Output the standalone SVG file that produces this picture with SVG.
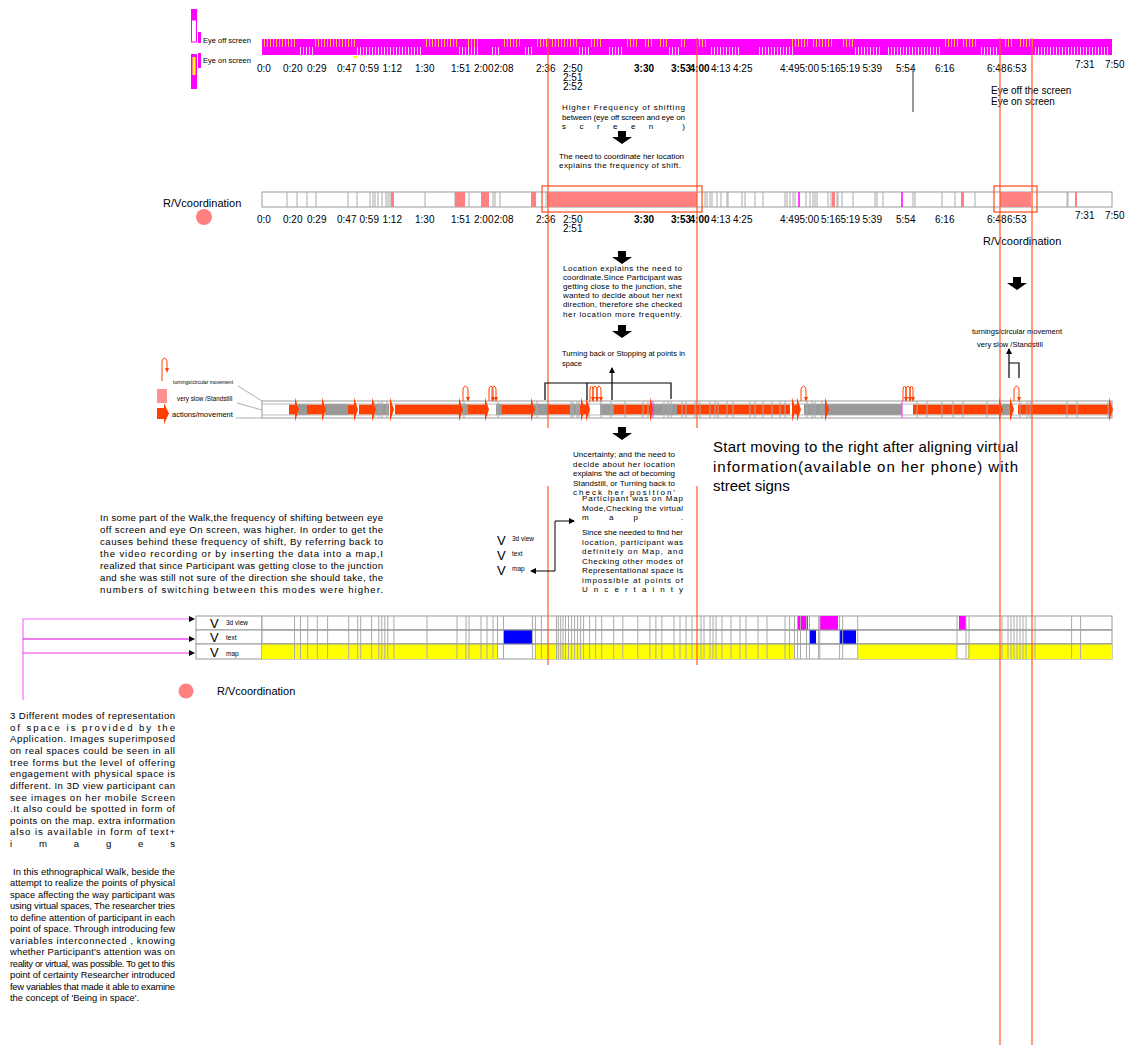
<svg xmlns="http://www.w3.org/2000/svg" width="1130" height="1045" viewBox="0 0 1130 1045">
<style>
text{font-family:"Liberation Sans",Arial,sans-serif;fill:#000}
.tl{font-size:10px}
.b{font-weight:bold}
.s8{font-size:8px}
.g{stroke:#aaa;stroke-width:1;fill:none}
.vo{stroke:#ff5a28;stroke-width:1.2;fill:none}
.ao{fill:#ff4000}
.ag{fill:#999}
.pk{fill:#ff8080}
.mg{fill:#ff00ff}
.u{fill:none;stroke:#ff4000;stroke-width:1}
.bk{fill:none;stroke:#000;stroke-width:1.2}
.cell{fill:#fff;stroke:#999;stroke-width:1}
</style>
<defs>
<pattern id="pOff" width="3" height="8" patternUnits="userSpaceOnUse"><rect width="1" height="8" fill="#ffc040"/></pattern>
<pattern id="pOn" width="3" height="8" patternUnits="userSpaceOnUse"><rect width="1" height="8" fill="#ffd0ff"/></pattern>
<path id="fat" d="M-4,0 h8 v6 h6 l-10,7 l-10,-7 h6 z" fill="#000"/>
<path id="ah" d="M-3,-12 L1,0 L-3,12 z" fill="#ff4000"/>
<path id="ud" d="M-2,-4 L2,-4 L0,1 z" fill="#ff4000"/>
<marker id="mk" viewBox="0 0 6 6" refX="5" refY="3" markerWidth="6" markerHeight="6" orient="auto-start-reverse" markerUnits="userSpaceOnUse"><path d="M0,0 L6,3 L0,6 z" fill="#000"/></marker>
</defs>
<rect width="1130" height="1045" fill="#fff"/>

<g id="legend-eye">
<rect x="191" y="9" width="6" height="11" class="mg"/>
<rect x="191.5" y="20" width="5" height="22" fill="#fff" stroke="#ff00ff"/>
<rect x="198" y="32" width="3" height="11" class="mg"/>
<text x="203" y="43" font-size="7.5">Eye off screen</text>
<rect x="191" y="54" width="6" height="35" class="mg"/>
<rect x="192.5" y="57" width="3" height="18" fill="#ffff00"/>
<rect x="198" y="53" width="3" height="15" class="mg"/>
<text x="203" y="62.5" font-size="7.5">Eye on screen</text>
</g>

<g id="eye-bar">
<rect x="262" y="39" width="850" height="16" class="mg"/>
<g fill="url(#pOff)">
<rect x="262" y="39" width="35" height="8"/><rect x="315" y="39" width="42" height="8"/><rect x="425" y="39" width="32" height="8"/><rect x="467" y="39" width="13" height="8"/><rect x="502" y="39" width="20" height="8"/><rect x="535" y="39" width="12" height="8"/><rect x="550" y="39" width="27" height="8"/><rect x="590" y="39" width="13" height="8"/><rect x="627" y="39" width="10" height="8"/><rect x="645" y="39" width="7" height="8"/><rect x="660" y="39" width="7" height="8"/><rect x="680" y="39" width="7" height="8"/><rect x="697" y="39" width="10" height="8"/><rect x="790" y="39" width="20" height="8"/><rect x="813" y="39" width="20" height="8"/><rect x="842" y="39" width="11" height="8"/><rect x="943" y="39" width="15" height="8"/><rect x="962" y="39" width="15" height="8"/><rect x="1003" y="39" width="9" height="8"/><rect x="1020" y="39" width="13" height="8"/>
</g>
<g fill="url(#pOn)">
<rect x="298" y="47" width="17" height="8"/><rect x="357" y="47" width="66" height="8"/><rect x="457" y="47" width="23" height="8"/><rect x="490" y="47" width="10" height="8"/><rect x="523" y="47" width="10" height="8"/><rect x="577" y="47" width="13" height="8"/><rect x="607" y="47" width="16" height="8"/><rect x="667" y="47" width="13" height="8"/><rect x="710" y="47" width="30" height="8"/><rect x="757" y="47" width="36" height="8"/><rect x="853" y="47" width="27" height="8"/><rect x="887" y="47" width="53" height="8"/><rect x="980" y="47" width="17" height="8"/><rect x="1033" y="47" width="77" height="8"/>
</g>
<rect x="353" y="56" width="4" height="2" fill="#ffff00"/>
</g>

<g id="eye-times" class="tl">
<text x="257" y="72">0:0</text><text x="283" y="72">0:20</text><text x="307" y="72">0:29</text>
<text x="337" y="72">0:47</text><text x="359.5" y="72">0:59</text><text x="382.5" y="72">1:12</text>
<text x="415" y="72">1:30</text><text x="451" y="72">1:51</text><text x="474" y="72">2:00</text><text x="494" y="72">2:08</text>
<text x="536" y="72">2:36</text><text x="563" y="71.5">2:50</text><text x="563" y="80.5">2:51</text><text x="563" y="89.5">2:52</text>
<text x="634" y="72" class="b">3:30</text><text x="671" y="72" class="b">3:53</text><text x="689.5" y="72" class="b">4:00</text>
<text x="711" y="72">4:13</text><text x="733" y="72">4:25</text>
<text x="780" y="72">4:49</text><text x="799.5" y="72">5:00</text><text x="821" y="72">5:16</text><text x="840.5" y="72">5:19</text><text x="862.5" y="72">5:39</text>
<text x="896" y="72">5:54</text><text x="935" y="72">6:16</text><text x="987" y="72">6:48</text><text x="1007" y="72">6:53</text>
<text x="1075" y="68">7:31</text><text x="1105" y="68">7:50</text>
</g>
<text x="991" y="94" class="tl">Eye off the screen</text>
<text x="991" y="105" class="tl">Eye on screen</text>

<g id="note-shift" class="s8">
<text x="562" y="110" textLength="123" lengthAdjust="spacing">Higher Frequency of shifting</text>
<text x="562" y="120" textLength="123" lengthAdjust="spacing">between (eye off screen and eye on</text>
<text x="562" y="129" textLength="123" lengthAdjust="spacing">screen )</text>
<text x="559" y="159" textLength="125" lengthAdjust="spacing">The need to coordinate her location</text>
<text x="559" y="168" textLength="122" lengthAdjust="spacing">explains the frequency of shift.</text>
</g>

<g id="rv-bar">
<rect x="262" y="192" width="850" height="15" fill="#fff" stroke="#999"/>
<path class="g" d="M287,192V207M297,192V207M307,192V207M316,192V207M348,192V207M357,192V207M370,192V207M373,192V207M375,192V207M378,192V207M382,192V207M386,192V207M388,192V207M390,192V207M425,192V207M455,192V207M469,192V207M493,192V207M495,192V207M500,192V207M546,192V207M705,192V207M707,192V207M710,192V207M712,192V207M717,192V207M721,192V207M727,192V207M728,192V207M742,192V207M745,192V207M755,192V207M763,192V207M785,192V207M787,192V207M790,192V207M793,192V207M795,192V207M806,192V207M810,192V207M813,192V207M815,192V207M817,192V207M828,192V207M831,192V207M837,192V207M838,192V207M842,192V207M853,192V207M875,192V207M877,192V207M883,192V207M913,192V207M915,192V207M942,192V207M955,192V207M975,192V207M1067,192V207M1068,192V207"/>
<rect x="391" y="192" width="3" height="15" class="pk"/><rect x="455" y="192" width="10" height="15" class="pk"/><rect x="481" y="192" width="8" height="15" class="pk"/><rect x="531" y="192" width="5" height="15" class="pk"/><rect x="547" y="192" width="150" height="15" class="pk"/><rect x="832" y="192" width="3" height="15" class="pk"/><rect x="961" y="192" width="3" height="15" class="pk"/><rect x="1000" y="192" width="31" height="15" class="pk"/><rect x="1075" y="192" width="2" height="15" class="pk"/>
<path d="M799,192V207M902,192V207" stroke="#ff00ff" stroke-width="1.5"/>
<rect x="542" y="186" width="160" height="26" fill="none" stroke="#ff4a1a" stroke-width="1.2"/>
<rect x="994" y="186" width="43" height="26" fill="none" stroke="#ff4a1a" stroke-width="1.2"/>
</g>
<text x="163" y="207" font-size="11">R/Vcoordination</text>
<circle cx="204" cy="217" r="8" class="pk"/>
<g id="rv-times" class="tl">
<text x="257" y="223">0:0</text><text x="283" y="223">0:20</text><text x="307" y="223">0:29</text>
<text x="337" y="223">0:47</text><text x="359.5" y="223">0:59</text><text x="382.5" y="223">1:12</text>
<text x="415" y="223">1:30</text><text x="451" y="223">1:51</text><text x="474" y="223">2:00</text><text x="494" y="223">2:08</text>
<text x="536" y="223">2:36</text><text x="563" y="223">2:50</text><text x="563" y="232">2:51</text>
<text x="634" y="223" class="b">3:30</text><text x="671" y="223" class="b">3:53</text><text x="689.5" y="223" class="b">4:00</text>
<text x="711" y="223">4:13</text><text x="733" y="223">4:25</text>
<text x="780" y="223">4:49</text><text x="799.5" y="223">5:00</text><text x="821" y="223">5:16</text><text x="840.5" y="223">5:19</text><text x="862.5" y="223">5:39</text>
<text x="896" y="223">5:54</text><text x="935" y="223">6:16</text><text x="987" y="223">6:48</text><text x="1007" y="223">6:53</text>
<text x="1075" y="219">7:31</text><text x="1105" y="219">7:50</text>
</g>
<text x="983" y="245" font-size="11">R/Vcoordination</text>

<g id="note-location" class="s8">
<text x="563" y="270.5" textLength="119" lengthAdjust="spacing">Location explains the need to</text>
<text x="563" y="279.7" textLength="119" lengthAdjust="spacing">coordinate.Since Participant was</text>
<text x="563" y="288.9" textLength="119" lengthAdjust="spacing">getting close to the junction, she</text>
<text x="563" y="298.1" textLength="119" lengthAdjust="spacing">wanted to decide about her next</text>
<text x="563" y="307.3" textLength="119" lengthAdjust="spacing">direction, therefore she checked</text>
<text x="563" y="316.5" textLength="119" lengthAdjust="spacing">her location more frequently.</text>
<text x="562" y="356" font-size="7.5" textLength="123" lengthAdjust="spacing">Turning back or Stopping at points in</text>
<text x="562" y="365.5" font-size="7.5">space</text>
</g>

<text x="972" y="334" font-size="7.5">turnings/circular movement</text>
<text x="977" y="347" font-size="7.5">very slow /Standstill</text>

<g id="legend-actions">
<path class="u" d="M162,381V361Q164.5,355 167,361V368"/>
<use href="#ud" x="167" y="372"/>
<rect x="157" y="389" width="10" height="14" fill="#ff9090"/>
<rect x="157" y="408" width="8" height="11" class="ao"/>
<path d="M164,403 L169,413.5 L164,424 z" class="ao"/>
<text x="173" y="384" font-size="5">turnings/circular movement</text>
<text x="177" y="400.5" font-size="6.3">very slow /Standstill</text>
<text x="172" y="417" font-size="7.5">actions/movement</text>
<path d="M238,386L262,401M237,403L262,410M236,418H262" stroke="#999" stroke-width="0.8" fill="none"/>
</g>

<g id="actions-bar">
<rect x="262" y="401" width="850" height="17" fill="#fff" stroke="#999"/>
<g class="ag">
<rect x="298" y="404" width="9" height="11"/><rect x="325" y="404" width="23" height="11"/><rect x="375" y="404" width="14" height="11"/><rect x="462" y="404" width="6" height="11"/><rect x="496" y="404" width="6" height="11"/><rect x="534" y="404" width="14" height="11"/><rect x="570" y="404" width="10" height="11"/><rect x="600" y="404" width="14" height="11"/><rect x="653" y="404" width="24" height="11"/><rect x="804" y="404" width="98" height="11"/><rect x="1002" y="404" width="10" height="11"/>
</g>
<g class="ao">
<rect x="289" y="404.5" width="7" height="10"/><rect x="307" y="404.5" width="15" height="10"/><rect x="348" y="404.5" width="7" height="10"/><rect x="359" y="404.5" width="13" height="10"/><rect x="395" y="404.5" width="64" height="10"/><rect x="468" y="404.5" width="17" height="10"/><rect x="502" y="404.5" width="29" height="10"/><rect x="548" y="404.5" width="22" height="10"/><rect x="580" y="404.5" width="7" height="10"/><rect x="614" y="404.5" width="36" height="10"/><rect x="677" y="404.5" width="113" height="10"/><rect x="795" y="404.5" width="3" height="10"/><rect x="913" y="404.5" width="86" height="10"/><rect x="1018" y="404.5" width="91" height="10"/>
</g>
<path class="g" d="M374,401V418M379,401V418M382,401V418M387,401V418M464,401V418M498,401V418M537,401V418M571,401V418M573,401V418M577,401V418M579,401V418M589,401V418M601,401V418M611,401V418M625,401V418M643,401V418M648,401V418M664,401V418M668,401V418M671,401V418M682,401V418M686,401V418M695,401V418M700,401V418M710,401V418M715,401V418M718,401V418M727,401V418M733,401V418M750,401V418M755,401V418M763,401V418M772,401V418M780,401V418M785,401V418M807,401V418M812,401V418M815,401V418M822,401V418M917,401V418M927,401V418M942,401V418M953,401V418M963,401V418M987,401V418M1020,401V418M1027,401V418M1030,401V418M1067,401V418M1077,401V418M1108,401V418"/>
<path d="M262,404H1112M262,415H1112" stroke="#aaa" stroke-width="0.8"/>
<use href="#ah" x="298" y="409.5"/><use href="#ah" x="325" y="409.5"/><use href="#ah" x="357" y="409.5"/><use href="#ah" x="375" y="409.5"/><use href="#ah" x="393" y="409.5"/><use href="#ah" x="462" y="409.5"/><use href="#ah" x="488" y="409.5"/><use href="#ah" x="534" y="409.5"/><use href="#ah" x="584" y="409.5"/><use href="#ah" x="589" y="409.5"/><use href="#ah" x="653" y="409.5"/><use href="#ah" x="795" y="409.5"/><use href="#ah" x="800" y="409.5"/><use href="#ah" x="828" y="409.5"/><use href="#ah" x="1002" y="409.5"/><use href="#ah" x="1013" y="409.5"/><use href="#ah" x="1112" y="409.5"/>
<path d="M653,401V418M902,401V418" stroke="#ff33ff" stroke-width="1"/>
<path class="u" d="M463,401V389Q465.5,383 468,389V397M489,401V389Q491,383 493,389V397M492,401V389Q494,383 496,389V397M590,401V389Q591.5,383 593,389V397M593,401V389Q595,383 597,389V397M597,401V389Q599,383 601,389V397M801,401V389Q803.5,383 806,389V397M903,401V389Q904.5,383 906,389V397M906,401V389Q908,383 910,389V397M910,401V389Q911.5,383 913,389V397M1014,401V389Q1016.5,383 1019,389V397"/>
<use href="#ud" x="468" y="401"/><use href="#ud" x="493" y="401"/><use href="#ud" x="496" y="401"/><use href="#ud" x="593" y="401"/><use href="#ud" x="597" y="401"/><use href="#ud" x="601" y="401"/><use href="#ud" x="806" y="401"/><use href="#ud" x="906" y="401"/><use href="#ud" x="910" y="401"/><use href="#ud" x="913" y="401"/><use href="#ud" x="1019" y="401"/>
</g>

<g id="note-uncertainty" class="s8">
<text x="573" y="457" textLength="102" lengthAdjust="spacing">Uncertainty; and the need to</text>
<text x="573" y="466.5" textLength="102" lengthAdjust="spacing">decide about her location</text>
<text x="573" y="476" textLength="102" lengthAdjust="spacing">explains 'the act of becoming</text>
<text x="573" y="485.5" textLength="102" lengthAdjust="spacing">Standstill, or Turning back to</text>
<text x="573" y="494.5" textLength="102" lengthAdjust="spacing">check her position'</text>
</g>
<g id="note-map" class="s8">
<text x="582" y="501" textLength="101" lengthAdjust="spacing">Participant was on Map</text>
<text x="582" y="510.5" textLength="101" lengthAdjust="spacing">Mode,Checking the virtual</text>
<text x="582" y="520" textLength="101" lengthAdjust="spacing">map .</text>
<text x="582" y="535" textLength="101" lengthAdjust="spacing">Since she needed to find her</text>
<text x="582" y="544.5" textLength="101" lengthAdjust="spacing">location, participant was</text>
<text x="582" y="554" textLength="101" lengthAdjust="spacing">definitely on Map, and</text>
<text x="582" y="563.5" textLength="101" lengthAdjust="spacing">Checking other modes of</text>
<text x="582" y="573" textLength="101" lengthAdjust="spacing">Representational space is</text>
<text x="582" y="582.5" textLength="101" lengthAdjust="spacing">impossible at points of</text>
<text x="582" y="592" textLength="101" lengthAdjust="spacing">Uncertainty</text>
</g>

<text x="713" y="452" font-size="15" textLength="305" lengthAdjust="spacing">Start moving to the right after aligning  virtual</text>
<text x="713" y="472" font-size="15" textLength="305" lengthAdjust="spacing">information(available on her phone) with</text>
<text x="713" y="491" font-size="15">street signs</text>

<g id="mini-modes">
<text x="497" y="545" font-size="13">V</text><text x="512" y="541" font-size="6.5">3d view</text>
<text x="497" y="560" font-size="13">V</text><text x="512" y="556" font-size="6.5">text</text>
<text x="497" y="575" font-size="13">V</text><text x="512" y="571" font-size="6.5">map</text>
</g>

<g id="note-walk" font-size="9.6">
<text x="100" y="521" textLength="283" lengthAdjust="spacing">In some part of the Walk,the frequency of shifting between eye</text>
<text x="100" y="533" textLength="283" lengthAdjust="spacing">off screen and eye On screen, was higher. In order to get the</text>
<text x="100" y="545" textLength="283" lengthAdjust="spacing">causes behind  these frequency of shift, By referring back to</text>
<text x="100" y="557" textLength="283" lengthAdjust="spacing">the video recording  or by inserting the data into a map,I</text>
<text x="100" y="569" textLength="283" lengthAdjust="spacing">realized that since Participant was getting close to the  junction</text>
<text x="100" y="581" textLength="283" lengthAdjust="spacing">and she was still not sure of the direction she should take, the</text>
<text x="100" y="593" textLength="283" lengthAdjust="spacing">numbers of switching between this modes were higher.</text>
</g>

<g id="modes-table">
<rect x="196" y="616" width="66" height="14" class="cell"/>
<rect x="196" y="630" width="66" height="14" class="cell"/>
<rect x="196" y="644" width="66" height="15" class="cell"/>
<text x="210" y="628" font-size="13">V</text><text x="226" y="624.5" font-size="6.5">3d view</text>
<text x="210" y="642" font-size="13">V</text><text x="226" y="639.5" font-size="6.5">text</text>
<text x="210" y="657" font-size="13">V</text><text x="226" y="656" font-size="6.5">map</text>
<rect x="262" y="616" width="850" height="14" class="cell"/>
<rect x="262" y="630" width="850" height="14" class="cell"/>
<rect x="262" y="644" width="850" height="15" class="cell"/>
<g fill="#ffff00"><rect x="262" y="644" width="235" height="15"/><rect x="535" y="644" width="259" height="15"/><rect x="858" y="644" width="99" height="15"/><rect x="968" y="644" width="144" height="15"/></g>
<g fill="#0000ff"><rect x="503" y="630" width="29" height="14"/><rect x="810" y="630" width="6" height="14"/><rect x="840" y="630" width="16" height="14"/></g>
<g fill="#ff00ff"><rect x="797" y="616" width="11" height="14"/><rect x="820" y="616" width="18" height="14"/><rect x="959" y="616" width="7" height="14"/></g>
<path class="g" d="M294.5,616V659M300.5,616V659M307.7,616V659M317.3,616V659M327.6,616V659M348.7,616V659M357.7,616V659M360.7,616V659M371.6,616V659M378.8,616V659M381.8,616V659M384.8,616V659M387.8,616V659M393.9,616V659M427,616V659M457,616V659M466,616V659M469,616V659M481,616V659M487,616V659M493,616V659M497.5,616V659M503.5,616V659M532.4,616V659M535.4,616V659M541.4,616V659M556.5,616V659M558.3,616V659M560.7,616V659M563,616V659M565.5,616V659M568.5,616V659M571.6,616V659M574.6,616V659M577.6,616V659M580.6,616V659M583.6,616V659M589.6,616V659M595.7,616V659M601.7,616V659M613.7,616V659M622.8,616V659M637.8,616V659M649.9,616V659M655.9,616V659M661.9,616V659M674,616V659M680,616V659M686,616V659M692,616V659M701,616V659M704,616V659M710,616V659M713,616V659M716,616V659M722,616V659M731,616V659M740,616V659M746,616V659M758,616V659M767,616V659M785,616V659M789.6,616V659M794.5,616V659M797.5,616V659M800.5,616V659M806.5,616V659M809.5,616V659M818.6,616V659M819.8,616V659M839.6,616V659M842.7,616V659M857.7,616V659M957,616V659M966,616V659M969,616V659M1002,616V659M1008,616V659M1011,616V659M1014,616V659M1017,616V659M1020,616V659M1023,616V659M1026,616V659M1035,616V659M1071.6,616V659M1080.6,616V659"/>
<path d="M262,630H1112M262,644H1112" stroke="#999" stroke-width="1"/>
</g>

<text x="217" y="695" font-size="11">R/Vcoordination</text>
<circle cx="186" cy="691" r="7.5" class="pk"/>

<g id="note-modes" font-size="9.6">
<text x="10" y="719" textLength="165" lengthAdjust="spacing">3 Different modes of representation</text>
<text x="10" y="731" textLength="165" lengthAdjust="spacing">of space is provided by the</text>
<text x="10" y="742" textLength="165" lengthAdjust="spacing">Application. Images superimposed</text>
<text x="10" y="754" textLength="165" lengthAdjust="spacing">on real spaces could be seen in all</text>
<text x="10" y="766" textLength="165" lengthAdjust="spacing">tree forms but the level of offering</text>
<text x="10" y="777" textLength="165" lengthAdjust="spacing">engagement with physical space is</text>
<text x="10" y="789" textLength="165" lengthAdjust="spacing">different.  In 3D view participant can</text>
<text x="10" y="801" textLength="165" lengthAdjust="spacing">see images  on her mobile Screen</text>
<text x="10" y="812" textLength="165" lengthAdjust="spacing">.It also could be spotted in form of</text>
<text x="10" y="824" textLength="165" lengthAdjust="spacing">points on the map. extra information</text>
<text x="10" y="835" textLength="165" lengthAdjust="spacing">also is available in form of text+</text>
<text x="10" y="847" textLength="165" lengthAdjust="spacing">images</text>
</g>
<g id="note-ethno" font-size="9.4">
<text x="13" y="875" textLength="162" lengthAdjust="spacing">In this ethnographical Walk, beside the</text>
<text x="10" y="886" textLength="165" lengthAdjust="spacing">attempt to realize the points of physical</text>
<text x="10" y="898" textLength="165" lengthAdjust="spacing">space affecting the way participant was</text>
<text x="10" y="909" textLength="165" lengthAdjust="spacing">using virtual spaces, The researcher tries</text>
<text x="10" y="921" textLength="165" lengthAdjust="spacing">to define attention of participant in each</text>
<text x="10" y="932" textLength="165" lengthAdjust="spacing">point of space. Through introducing few</text>
<text x="10" y="944" textLength="165" lengthAdjust="spacing">variables interconnected , knowing</text>
<text x="10" y="955" textLength="165" lengthAdjust="spacing">whether Participant's attention was on</text>
<text x="10" y="967" textLength="165" lengthAdjust="spacing">reality or virtual, was possible. To get to this</text>
<text x="10" y="978" textLength="165" lengthAdjust="spacing">point of certainty Researcher introduced</text>
<text x="10" y="990" textLength="165" lengthAdjust="spacing">few variables that made it able to examine</text>
<text x="10" y="1001">the concept of 'Being in space'.</text>
</g>

<g id="connectors">
<path class="vo" d="M548,38V428M697,38V428M548,486V665M697,486V665M1000,38V1045M1032,38V1045"/>
<path d="M913,67V112" stroke="#777" stroke-width="1.5"/>
<use href="#fat" x="622" y="131"/>
<use href="#fat" x="622" y="251"/>
<use href="#fat" x="622" y="325"/>
<use href="#fat" x="622" y="427"/>
<use href="#fat" x="1017" y="277"/>
<path class="bk" d="M545,400V383H671V399M587,383V400"/>
<path class="bk" d="M612,400V368" marker-end="url(#mk)"/>
<path class="bk" d="M1009,378V349" marker-end="url(#mk)"/>
<path class="bk" d="M1009,363H1019V378"/>
<path d="M531,571H555V521H574" fill="none" stroke="#000" stroke-width="1" marker-start="url(#mk)" marker-end="url(#mk)"/>
<path d="M23,700V619H194" fill="none" stroke="#ff66ff" stroke-width="1.2" marker-end="url(#mk)"/>
<path d="M23,639H194" fill="none" stroke="#dd00dd" stroke-width="1.2" marker-end="url(#mk)"/>
<path d="M23,653H194" fill="none" stroke="#ee33ee" stroke-width="1.2" marker-end="url(#mk)"/>
</g>
</svg>
